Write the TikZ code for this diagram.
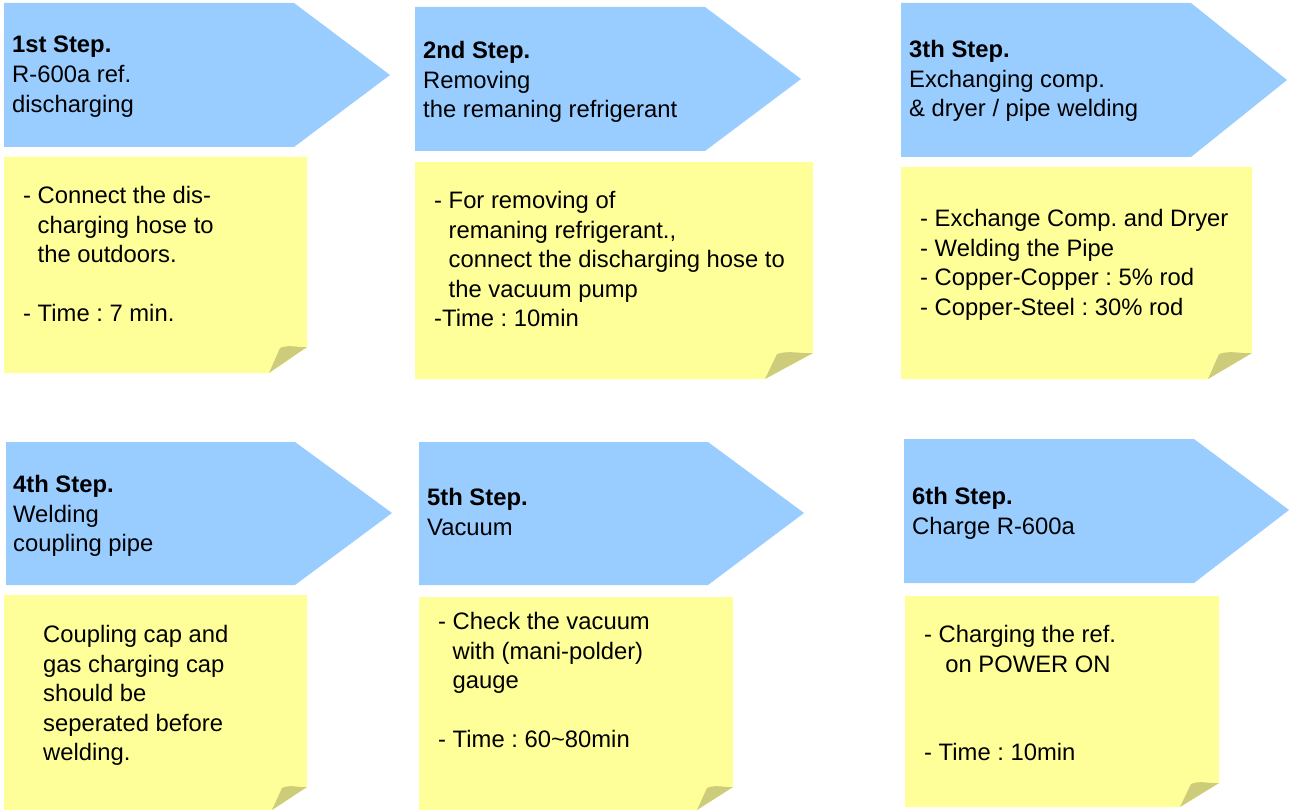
\documentclass[tikz,border=0pt]{standalone}
\usepackage{fontspec}
\setmainfont{Liberation Sans}
\frenchspacing
\definecolor{stepblue}{HTML}{99CCFF}
\definecolor{noteyellow}{HTML}{FFFF99}
\definecolor{flapolive}{HTML}{CCCC7A}
\begin{document}
\begin{tikzpicture}[x=1pt, y=-1pt, line join=round,
	txt/.style={inner sep=0pt, anchor=north west, align=left, font=\fontsize{23.8}{29.6}\selectfont}]
				\useasboundingbox (0,0) rectangle (1289,810);
				% step arrows
				\fill [stepblue] (4,3)--(294,3)--(390,75)--(294,147)--(4,147)--cycle
				(415,7)--(705,7)--(801,79)--(705,151)--(415,151)--cycle
				(901,3)--(1191,3)--(1287,80)--(1191,157)--(901,157)--cycle
				(6,442)--(295,442)--(392,513)--(295,585)--(6,585)--cycle
				(419,442)--(708,442)--(804,513)--(708,585)--(419,585)--cycle
				(904,439)--(1194,439)--(1289,510)--(1194,583)--(904,583)--cycle
				;
				% notes with a cut corner
				\fill [noteyellow] (4,157)--(307,157)--(307,347)--(269,373)--(4,373)--cycle
				(415,162)--(813,162)--(813,353)--(765,379)--(415,379)--cycle
				(901,167)--(1252,167)--(1252,353)--(1208,379)--(901,379)--cycle
				(4,595)--(307,595)--(307,787)--(272,810)--(4,810)--cycle
				(419,597)--(733,597)--(733,787)--(697,810)--(419,810)--cycle
				(905,596)--(1219,596)--(1219,783)--(1180,807)--(905,807)--cycle
				;
				% folded flaps
				\fill [flapolive] (269,373)--(280,348) .. controls (289,344) and (299,348) .. (307,347)--cycle
				(765,379)--(777,354) .. controls (788,350) and (801,354) .. (813,353)--cycle
				(1208,379)--(1219,354) .. controls (1230,350) and (1241,354) .. (1252,353)--cycle
				(272,810)--(282,788) .. controls (290,784) and (299,788) .. (307,787)--cycle
				(697,810)--(707,788) .. controls (716,784) and (725,788) .. (733,787)--cycle
				(1180,807)--(1191,784) .. controls (1200,780) and (1210,784) .. (1219,783)--cycle
				;
				% step titles
				\node [txt] (t1) at (12,36) {\textbf{1st Step.}\\R-600a ref.\\discharging};
				\node [txt] (t2) at (423,41) {\textbf{2nd Step.}\\Removing\\the remaning refrigerant};
				\node [txt] (t3) at (909,40) {\textbf{3th Step.}\\Exchanging comp.\\\& dryer / pipe welding};
				\node [txt] (t4) at (13,475) {\textbf{4th Step.}\\Welding\\coupling pipe};
				\node [txt] (t5) at (427,488) {\textbf{5th Step.}\\Vacuum};
				\node [txt] (t6) at (912,487) {\textbf{6th Step.}\\Charge R-600a};
				% note texts
				\node [txt] (d1) at (23,186) {- Connect the dis-\\\phantom{- }charging hose to\\\phantom{- }the outdoors.\\[29.6pt]- Time : 7 min.};
				\node [txt] (d2) at (434,191) {- For removing of\\\phantom{- }remaning refrigerant.,\\\phantom{- }connect the discharging hose to\\\phantom{- }the vacuum pump\\-Time : 10min};
				\node [txt] (d3) at (920,209) {- Exchange Comp. and Dryer\\- Welding the Pipe\\- Copper-Copper : 5\% rod\\- Copper-Steel : 30\% rod};
				\node [txt] (d4) at (43,625) {Coupling cap and\\gas charging cap\\should be\\seperated before\\welding.};
				\node [txt] (d5) at (438,612) {- Check the vacuum\\\phantom{- }with (mani-polder)\\\phantom{- }gauge\\[29.6pt]- Time : 60\textasciitilde80min};
				\node [txt] (d6) at (924,625) {- Charging the ref.\\\phantom{- }\ on POWER ON\\[59.2pt]- Time : 10min};
			\end{tikzpicture}
\end{document}
